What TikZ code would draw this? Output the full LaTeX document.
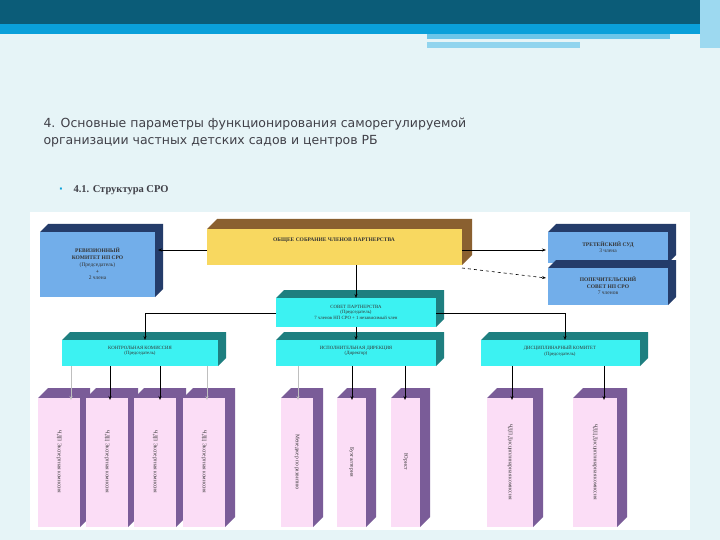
\documentclass[tikz,border=0pt]{standalone}
\usepackage{fontspec}
\setmainfont{Liberation Serif}
\newfontfamily\titlefont{DejaVu Sans}
\usetikzlibrary{arrows.meta}
\definecolor{bg}{HTML}{E6F4F7}
\definecolor{band}{HTML}{0B5C78}
\definecolor{bandb}{HTML}{0AA0DA}
\definecolor{ttl}{HTML}{404048}
\definecolor{fblue}{HTML}{72AEEA}\definecolor{sblue}{HTML}{243C6A}
\definecolor{fyel}{HTML}{F8D860}\definecolor{syel}{HTML}{8A6030}
\definecolor{fcyan}{HTML}{3CF2F2}\definecolor{scyan}{HTML}{1E7F80}
\definecolor{fpink}{HTML}{FBDDF6}\definecolor{spink}{HTML}{7A5C98}
\tikzset{lbl/.style={font=\fontsize{5.5}{6.5}\selectfont\bfseries,align=center,text=black!80},
  conn/.style={draw=black,line width=0.6pt},
  arr/.style={conn,-{Stealth[length=4pt,width=3pt]}}}
% \cube{name}{x1}{y1}{x2}{y2}{front}{side}{depth}
\newcommand\cube[8]{%
  \fill[#7] (#2,#3) -- (#2+#8,#3-#8) -- (#4+#8,#3-#8) -- (#4+#8,#5-#8) -- (#4,#5) -- (#4,#3) -- cycle;
  \fill[#6] (#2,#3) rectangle (#4,#5);
  \coordinate (#1) at ({(#2+#4)/2},{(#3+#5)/2});
  \coordinate (#1-n) at ({(#2+#4)/2},#3);
  \coordinate (#1-s) at ({(#2+#4)/2},#5);}
\begin{document}
\begin{tikzpicture}[x=1pt,y=-1pt]
\useasboundingbox (0,0) rectangle (720,540);
\fill[bg] (0,0) rectangle (720,540);
\fill[band] (0,0) rectangle (700,24);
\fill[bandb] (0,24) rectangle (700,34);
\fill[bandb!60] (427,34) rectangle (670,39);
\fill[bandb!45] (427,42) rectangle (580,48);
\fill[bandb!40] (700,0) rectangle (720,48);
\node[anchor=west,text=ttl,font=\titlefont\fontsize{12.5}{17}\selectfont,align=left] at (40,133)
 {4. Основные параметры функционирования саморегулируемой\\организации частных детских садов и центров РБ};
\node[text=bandb,font=\fontsize{8}{8}\selectfont] at (61,190) {▪};
\node[anchor=west,font=\fontsize{10.5}{12}\selectfont\bfseries,text=ttl] at (70,190) {4.1. Структура СРО};
\fill[white] (30,212) rectangle (690,530);
% boxes
\cube{rev}{40}{232}{155}{297}{fblue}{sblue}{8}
\cube{obs}{207}{229}{462}{265}{fyel}{syel}{10}
\cube{tre}{548}{232}{668}{263}{fblue}{sblue}{8}
\cube{pop}{548}{268}{668}{305}{fblue}{sblue}{8}
\cube{sov}{276}{298}{436}{327}{fcyan}{scyan}{8}
\cube{kon}{62}{340}{218}{366}{fcyan}{scyan}{8}
\cube{isp}{276}{340}{436}{366}{fcyan}{scyan}{8}
\cube{dis}{481}{340}{640}{366}{fcyan}{scyan}{8}
\coordinate (obsb) at (356,265);
\node[lbl] at (97.5,264) {РЕВИЗИОННЫЙ\\КОМИТЕТ НП СРО\\[1pt]{\mdseries(Председатель)}\\+\\{\mdseries 2 члена}};
\node[lbl] at (334,240) {ОБЩЕЕ СОБРАНИЕ ЧЛЕНОВ ПАРТНЕРСТВА};
\node[lbl] at (608,247) {ТРЕТЕЙСКИЙ СУД\\{\mdseries 3 члена}};
\node[lbl] at (608,286) {ПОПЕЧИТЕЛЬСКИЙ\\СОВЕТ НП СРО\\{\mdseries 7 членов}};
\node[lbl,font=\fontsize{4.8}{5.5}\selectfont] at (356,312) {СОВЕТ ПАРТНЕРСТВА\\(Председатель)\\7 членов НП СРО + 1 независимый член};
\node[lbl,font=\fontsize{4.8}{5.5}\selectfont] at (140,351) {КОНТРОЛЬНАЯ КОМИССИЯ\\(Председатель)};
\node[lbl,font=\fontsize{4.8}{5.5}\selectfont] at (356,351) {ИСПОЛНИТЕЛЬНАЯ ДИРЕКЦИЯ\\(Директор)};
\node[lbl,font=\fontsize{4.8}{5.5}\selectfont] at (560,351) {ДИСЦИПЛИНАРНЫЙ КОМИТЕТ\\(Председатель)};
% pink columns
\foreach \n/\a/\b/\t in {p1/38/80/ЧДП Экспертная комиссия,p2/86/128/ЧДЦ Экспертная комиссия,p3/134/176/ЧДП Экспертная комиссия,p4/183/225/ЧДЦ Экспертная комиссия,p5/281/313/Менеджер по развитию,p6/337/366/Бухгалтерия,p7/391/420/Юрист,p8/487/533/ЧДП Дисциплинарная комиссия,p9/573/617/ЧДЦ Дисциплинарная комиссия}{
  \cube{\n}{\a}{398}{\b}{527}{fpink}{spink}{10}
  \node[lbl,font=\fontsize{5.5}{6}\selectfont,rotate=-90] at ({(\a+\b)/2},462) {\t};}
% connectors
\draw[arr] (207,250) -- (158,250);
\draw[arr] (462,250) -- (546,250);
\draw[arr,dashed] (462,268) -- (546,278);
\draw[arr] (obsb) -- (sov-n);
\draw[arr] (sov-s) -- (isp-n);
\draw[conn] (276,313) -- (145,313);
\draw[arr] (145,313) -- (145,340);
\draw[conn] (436,313) -- (565,313);
\draw[arr] (565,313) -- (565,340);
\foreach \x/\c in {71/gray!50,110/black,160/black,207/gray!50}{\draw[arr,draw=\c] (\x,366) -- (\x,400);}
\foreach \x/\c in {298/gray!50,352/black,405/black}{\draw[arr,draw=\c] (\x,366) -- (\x,400);}
\foreach \x in {512,604}{\draw[arr] (\x,366) -- (\x,400);}
\end{tikzpicture}
\end{document}
